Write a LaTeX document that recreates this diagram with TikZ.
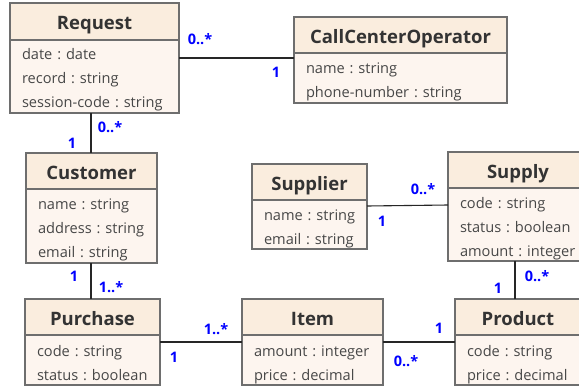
\documentclass[tikz,border=0pt]{standalone}
\usepackage{fontspec}
\setmainfont{Open Sans}
\usetikzlibrary{backgrounds}
\frenchspacing

\definecolor{hdrfill}{HTML}{FAEDDE}
\definecolor{bdyfill}{HTML}{FDF5EF}
\definecolor{edge}{HTML}{6E6E6E}
\definecolor{ink}{HTML}{333333}
\definecolor{mult}{HTML}{0000FF}
\definecolor{halo}{HTML}{FBF0CC}

\tikzset{
  classhead/.style={draw=edge, line width=1.1pt, fill=hdrfill, anchor=north west,
    inner sep=0pt, outer sep=0pt, font=\fontsize{18.5}{20}\selectfont\bfseries, text=ink},
  classbody/.style={draw=edge, line width=1.1pt, fill=bdyfill, anchor=north west,
    inner sep=0pt, outer sep=0pt},
  attrtext/.style={anchor=north west, inner sep=0pt, outer sep=0pt, align=left,
    text width=250pt, text depth=0pt,
    font=\fontsize{14.6}{24}\selectfont, text=ink!90},
  assoc/.style={draw=black!85, line width=1.1pt},
  multlabel/.style={text=mult, font=\fontsize{14.5}{14.5}\selectfont\bfseries, inner sep=0pt},
  joint/.style={fill=halo, draw=none, circle, minimum size=10pt, inner sep=0pt}
}

% \umlclass{name}{left}{top}{width}{head height}{body height}{title}{attributes}{first baseline}
\newcommand{\umlclass}[9]{%
  \pgfmathsetmacro\umlhd{#5-26.3}%
  \node[classhead, minimum width=#4pt, minimum height=#5pt,
        text height=26.3pt, text depth=\umlhd pt] (#1-h) at (#2,#3) {#7};
  \node[classbody, minimum width=#4pt, minimum height=#6pt] (#1) at (#1-h.south west) {};
  \node[attrtext, text height=#9pt] (#1-t) at ([xshift=12pt]#1.north west) {#8};
}

\begin{document}
\begin{tikzpicture}[x=1pt, y=-1pt]
  \clip (0,0) rectangle (579,389);
  \fill[white] (0,0) rectangle (579,389);

  % classes
  \umlclass{req}{10}{3}{169}{37}{73}{Request}{date : date\\record : string\\session-code : string}{19}
  \umlclass{cco}{294}{17}{213}{36}{50}{CallCenterOperator}{name : string\\phone-number : string}{20}
  \umlclass{cust}{26}{153}{131}{36}{74}{Customer}{name : string\\address : string\\email : string}{20}
  \umlclass{supr}{252}{164}{115}{36}{49}{Supplier}{name : string\\email : string}{20}
  \umlclass{supy}{448}{152}{140}{36}{73}{Supply}{code : string\\status : boolean\\amount : integer}{20}
  \umlclass{pur}{25}{299}{135}{36}{50}{Purchase}{code : string\\status : boolean}{21}
  \umlclass{item}{242}{299}{141}{36}{50}{Item}{amount : integer\\price : decimal}{21}
  \umlclass{prod}{455}{299}{126}{36}{50}{Product}{code : string\\price : decimal}{21}

  % association end points
  \coordinate (a1) at (req.east |- 0,58);   \coordinate (a2) at (cco.west |- 0,58);
  \coordinate (b1) at (req.south -| 91,0);  \coordinate (b2) at (cust-h.north -| 91,0);
  \coordinate (c1) at (cust.south -| 91,0); \coordinate (c2) at (pur-h.north -| 91,0);
  \coordinate (d1) at (pur.east |- 0,342);  \coordinate (d2) at (item.west |- 0,342);
  \coordinate (e1) at (item.east |- 0,342); \coordinate (e2) at (prod.west |- 0,342);
  \coordinate (f1) at (supr.east |- 0,206); \coordinate (f2) at (supy.west |- 0,205);
  \coordinate (g1) at (supy.south -| 515,0);\coordinate (g2) at (prod-h.north -| 515,0);

  \begin{pgfonlayer}{background}
    \foreach \p in {a1,a2,b1,b2,c1,c2,d1,d2,e1,e2,f1,f2,g1,g2}
      \node[joint] at (\p) {};
  \end{pgfonlayer}

  % associations
  \draw[assoc] (a1) -- (a2);
  \draw[assoc] (b1) -- (b2);
  \draw[assoc] (c1) -- (c2);
  \draw[assoc] (d1) -- (d2);
  \draw[assoc] (e1) -- (e2);
  \draw[assoc] (f1) -- (f2);
  \draw[assoc] (g1) -- (g2);

  % multiplicities
  \node[multlabel] (m1)  at (200,39)  {0..*};
  \node[multlabel] (m2)  at (276,72)  {1};
  \node[multlabel] (m3)  at (110,127) {0..*};
  \node[multlabel] (m4)  at (72,143)  {1};
  \node[multlabel] (m5)  at (74,276)  {1};
  \node[multlabel] (m6)  at (111,287) {1..*};
  \node[multlabel] (m7)  at (216,329) {1..*};
  \node[multlabel] (m8)  at (174,357) {1};
  \node[multlabel] (m9)  at (439,328) {1};
  \node[multlabel] (m10) at (406,361) {0..*};
  \node[multlabel] (m11) at (423,189) {0..*};
  \node[multlabel] (m12) at (382,221) {1};
  \node[multlabel] (m13) at (537,276) {0..*};
  \node[multlabel] (m14) at (498,288) {1};
\end{tikzpicture}
\end{document}
